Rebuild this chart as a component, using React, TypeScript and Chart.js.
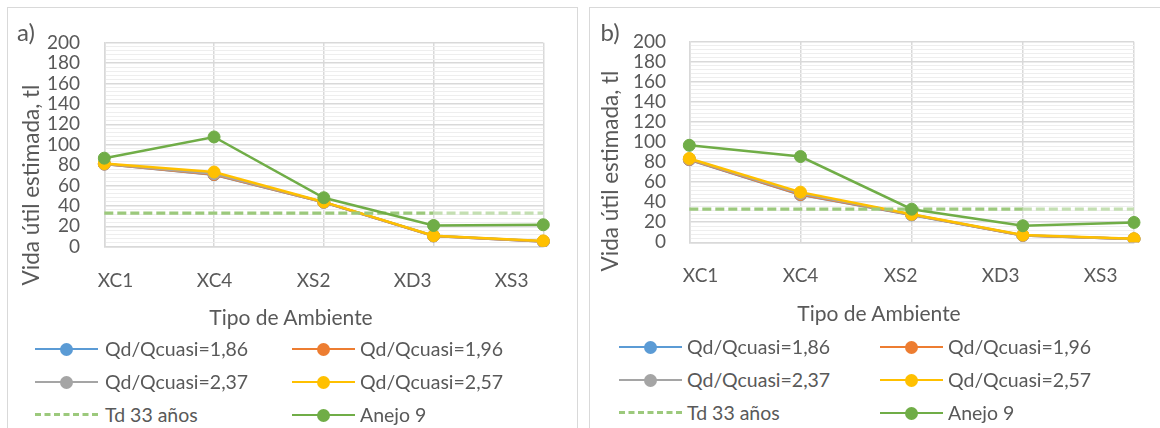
import React, { useEffect, useRef } from "react";
import { Chart, registerables } from "chart.js";
Chart.register(...registerables);

// ---------- data ----------
const categories = ["XC1", "XC4", "XS2", "XD3", "XS3"];
const seriesNames = [
  "Qd/Qcuasi=1,86",
  "Qd/Qcuasi=1,96",
  "Qd/Qcuasi=2,37",
  "Qd/Qcuasi=2,57",
  "Td 33 años",
  "Anejo 9",
];
const yMin = 0;
const yMax = 200;
const yMajorStep = 20;
const yMinorStep = 4;

// panel a)
const aQ186 = [81, 70.5, 43.5, 10.5, 5];
const aQ196 = [81, 70.8, 43.6, 10.6, 5.2];
const aQ237 = [81.2, 71.6, 43.7, 10.7, 5.4];
const aQ257 = [81.5, 73.2, 43.9, 10.8, 5.7];
const aTd = [33, 33, 33, 33, 33];
const aAnejo = [86.8, 107.6, 48, 20.8, 21.5];

// panel b)
const bQ186 = [82.3, 47.3, 27.3, 6.8, 3.2];
const bQ196 = [82.5, 47.6, 27.5, 6.9, 3.3];
const bQ237 = [83, 48.6, 27.8, 7.1, 3.4];
const bQ257 = [83.6, 50, 28, 7.3, 3.6];
const bTd = [33, 33, 33, 33, 33];
const bAnejo = [96.7, 85.5, 33, 16.5, 19.8];

// ---------- styles ----------
const COLORS = ["#5b9bd5", "#ed7d31", "#a5a5a5", "#ffc000", "#9cc97c", "#70ad47"];
const TD_LIGHT = "#c4dfb2";
const TEXT = "#595959";
const GRID = "#d9d9d9";
const GRID_MINOR = "#eeeeee";
const FONT = "Lato, 'Open Sans', sans-serif";

type PanelGeom = {
  label: string;
  left: number; // page coords
  top: number;
  width: number;
  height: number;
  padTop: number;
  padRight: number;
  yWidth: number;
  yPad: number;
  xlHeight: number;
  xlPad: number;
  xlMin: number;
  xlMax: number;
  borderWidth: number;
  lblX: number;
  lblY: number;
  yTitleX: number;
  yTitleY: number;
  xTitleX: number;
  xTitleY: number;
  legCols: { line: number; text: number }[];
  legRows: number[];
  series: number[][];
};

const panels: PanelGeom[] = [
  {
    label: "a)",
    left: 7,
    top: 7,
    width: 571,
    height: 300,
    padTop: 14.7,
    padRight: 34.7,
    yWidth: 97.3,
    yPad: 24.3,
    xlHeight: 60.3,
    xlPad: 22.5,
    xlMin: -0.114,
    xlMax: 4.32,
    borderWidth: 571,
    lblX: 26,
    lblY: 32,
    yTitleX: 31,
    yTitleY: 185,
    xTitleX: 291,
    xTitleY: 316,
    legCols: [
      { line: 35, text: 105 },
      { line: 292, text: 360 },
    ],
    legRows: [349, 382, 415],
    series: [aQ186, aQ196, aQ237, aQ257, aTd, aAnejo],
  },
  {
    label: "b)",
    left: 589,
    top: 7,
    width: 571,
    height: 300,
    padTop: 17,
    padRight: 26,
    yWidth: 100.3,
    yPad: 23.3,
    xlHeight: 64.7,
    xlPad: 22,
    xlMin: -0.113,
    xlMax: 4.334,
    borderWidth: 620,
    lblX: 610,
    lblY: 32,
    yTitleX: 610,
    yTitleY: 171,
    xTitleX: 879,
    xTitleY: 312,
    legCols: [
      { line: 619, text: 687 },
      { line: 880, text: 948 },
    ],
    legRows: [347, 380, 413],
    series: [bQ186, bQ196, bQ237, bQ257, bTd, bAnejo],
  },
];

function ChartPanel({ g }: { g: PanelGeom }) {
  const ref = useRef<HTMLCanvasElement | null>(null);
  useEffect(() => {
    if (!ref.current) return;
    const datasets: any[] = g.series.map((vals, i) => {
      const isTd = i === 4;
      const base: any = {
        label: seriesNames[i],
        data: vals,
        xAxisID: "x",
        yAxisID: "y",
        borderColor: COLORS[i],
        backgroundColor: COLORS[i],
        borderWidth: isTd ? 3.3 : 2.5,
        pointRadius: isTd ? 0 : 6,
        pointHoverRadius: isTd ? 0 : 6,
        pointBackgroundColor: COLORS[i],
        pointBorderColor: COLORS[i],
        pointBorderWidth: 1,
        tension: 0,
        fill: false,
        order: 6 - i,
      };
      if (isTd) {
        base.borderDash = [9, 4];
        base.segment = {
          borderColor: (ctx: any) => (ctx.p0DataIndex >= 3 ? TD_LIGHT : COLORS[4]),
        };
      }
      return base;
    });
    const chart = new Chart(ref.current, {
      type: "line",
      data: { labels: categories, datasets },
      options: {
        animation: false,
        responsive: false,
        maintainAspectRatio: false,
        layout: { padding: { top: g.padTop, right: g.padRight, left: 0, bottom: 0 } },
        plugins: { legend: { display: false }, tooltip: { enabled: false }, title: { display: false } },
        scales: {
          x: {
            type: "category",
            position: "bottom",
            offset: false,
            ticks: { display: false },
            grid: { color: GRID, lineWidth: 1.5, drawTicks: false },
            border: { color: GRID, width: 1.5 },
            afterFit: (s: any) => {
              s.height = 0;
            },
          },
          xl: {
            type: "linear",
            position: "bottom",
            min: g.xlMin,
            max: g.xlMax,
            afterBuildTicks: (s: any) => {
              s.ticks = categories.map((_, i) => ({ value: i }));
            },
            ticks: {
              autoSkip: false,
              maxRotation: 0,
              padding: g.xlPad,
              color: TEXT,
              font: { family: FONT, size: 19 },
              callback: (v: any) => categories[Math.round(Number(v))] ?? "",
            },
            grid: { display: false, drawTicks: false },
            border: { display: false },
            afterFit: (s: any) => {
              s.height = g.xlHeight;
            },
          },
          y: {
            type: "linear",
            min: yMin,
            max: yMax,
            ticks: {
              stepSize: yMinorStep,
              autoSkip: false,
              padding: g.yPad,
              color: TEXT,
              font: { family: FONT, size: 19 },
              callback: (v: any) => (Number(v) % yMajorStep === 0 ? String(v) : ""),
            },
            grid: {
              drawTicks: false,
              color: (ctx: any) =>
                ctx.tick && ctx.tick.value % yMajorStep === 0 ? GRID : GRID_MINOR,
              lineWidth: (ctx: any) =>
                ctx.tick && ctx.tick.value % yMajorStep === 0 ? 1.5 : 1,
            },
            border: { color: GRID, width: 1.5 },
            afterFit: (s: any) => {
              s.width = g.yWidth;
            },
          },
        },
      } as any,
    });
    return () => chart.destroy();
  }, [g]);

  const text: React.CSSProperties = {
    position: "absolute",
    fontFamily: FONT,
    color: TEXT,
    whiteSpace: "nowrap",
    lineHeight: 1,
  };

  return (
    <>
      <div
        style={{
          position: "absolute",
          left: g.left,
          top: g.top,
          width: g.borderWidth,
          height: 460,
          border: `1px solid ${GRID}`,
          boxSizing: "border-box",
          background: "#fff",
        }}
      />
      <canvas
        ref={ref}
        width={g.width}
        height={g.height}
        style={{ position: "absolute", left: g.left, top: g.top, width: g.width, height: g.height }}
      />
      <div style={{ ...text, left: g.lblX, top: g.lblY, fontSize: 24, transform: "translate(-50%,-50%)" }}>
        {g.label}
      </div>
      <div
        style={{
          ...text,
          left: g.yTitleX,
          top: g.yTitleY,
          fontSize: 22.5,
          transform: "translate(-50%,-50%) rotate(-90deg)",
        }}
      >
        Vida útil estimada, tl
      </div>
      <div style={{ ...text, left: g.xTitleX, top: g.xTitleY, fontSize: 21, transform: "translate(-50%,-50%)" }}>
        Tipo de Ambiente
      </div>
      {seriesNames.map((name, i) => {
        const col = g.legCols[i % 2];
        const row = g.legRows[Math.floor(i / 2)];
        const isTd = i === 4;
        return (
          <React.Fragment key={name}>
            <div
              style={{
                position: "absolute",
                left: col.line,
                top: row - (isTd ? 1.6 : 1.25),
                width: 63,
                height: 0,
                borderTop: isTd ? `3.3px dashed ${COLORS[i]}` : `2.5px solid ${COLORS[i]}`,
              }}
            />
            {!isTd && (
              <div
                style={{
                  position: "absolute",
                  left: col.line + 31.5 - 6.5,
                  top: row - 6.5,
                  width: 13,
                  height: 13,
                  borderRadius: "50%",
                  background: COLORS[i],
                }}
              />
            )}
            <div style={{ ...text, left: col.text, top: row, fontSize: 19.5, transform: "translateY(-50%)" }}>
              {name}
            </div>
          </React.Fragment>
        );
      })}
    </>
  );
}

export default function App() {
  return (
    <div style={{ position: "absolute", left: 0, top: 0, width: 1160, height: 428, overflow: "hidden", background: "#fff" }}>
      {panels.map((g) => (
        <ChartPanel key={g.label} g={g} />
      ))}
    </div>
  );
}
